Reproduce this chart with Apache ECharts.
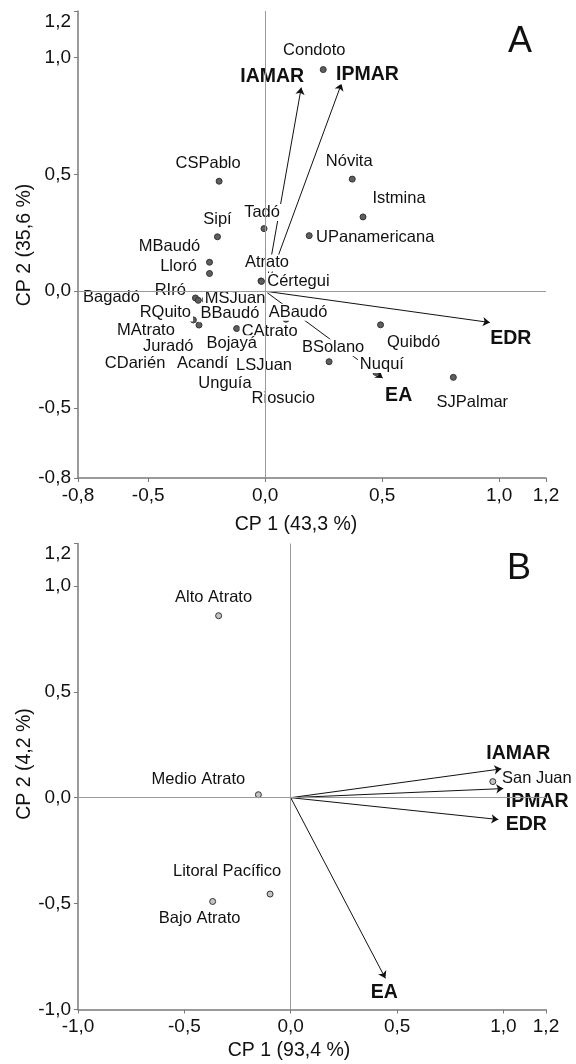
<!DOCTYPE html>
<html>
<head>
<meta charset="utf-8">
<script src="https://cdn.jsdelivr.net/npm/echarts@6/dist/echarts.min.js"></script>
<style>
html,body{margin:0;padding:0;background:#fff;}
#chart{width:576px;height:1064px;}
</style>
</head>
<body>
<div id="chart"></div>
<script>
// ---------- DATA ----------
// Panel A: municipalities (CP1, CP2 scores)
const municipiosA = ['Condoto','CSPablo','Nóvita','Istmina','Tadó','Sipí','UPanamericana','MBaudó','Lloró','Atrato','Cértegui','Bagadó','RIró','MSJuan','RQuito','MAtrato','BBaudó','CAtrato','Bojayá','ABaudó','BSolano','Quibdó','Nuquí','SJPalmar','Juradó','CDarién','Acandí','LSJuan','Unguía','Riosucio'];
const cp1A = [0.248,-0.197,0.372,0.418,-0.005,-0.204,0.188,-0.238,-0.238,-0.018,-0.016,-0.298,-0.286,-0.257,-0.307,-0.283,-0.172,-0.122,-0.143,0.089,0.273,0.493,0.473,0.804,-0.414,-0.556,-0.267,-0.005,-0.172,0.077];
const cp2A = [0.949,0.471,0.480,0.318,0.268,0.233,0.238,0.124,0.076,0.044,0.042,-0.029,-0.039,-0.037,-0.123,-0.145,-0.097,-0.160,-0.225,-0.120,-0.302,-0.144,-0.348,-0.369,-0.237,-0.308,-0.308,-0.319,-0.393,-0.460];
// Panel A: variable vectors
const variables = ['IAMAR','IPMAR','EDR','EA'];
const vecA_cp1 = [0.154,0.326,0.960,0.502];
const vecA_cp2 = [0.872,0.889,-0.134,-0.372];
// Panel B: subregions
const subregionesB = ['Alto Atrato','Medio Atrato','Litoral Pacífico','Bajo Atrato','San Juan'];
const cp1B = [-0.339,-0.152,-0.097,-0.367,0.950];
const cp2B = [0.859,0.014,-0.455,-0.490,0.076];
const vecB_cp1 = [0.990,0.999,0.976,0.445];
const vecB_cp2 = [0.136,0.043,-0.103,-0.853];
// Tick values
const ticksA_x = [-0.8,-0.5,0,0.5,1.0,1.2];
const ticksA_y = [-0.8,-0.5,0,0.5,1.0,1.2];
const ticksB_x = [-1.0,-0.5,0,0.5,1.0,1.2];
const ticksB_y = [-1.0,-0.5,0,0.5,1.0,1.2];
// Axis titles
const titleA_x = 'CP 1 (43,3 %)', titleA_y = 'CP 2 (35,6 %)';
const titleB_x = 'CP 1 (93,4 %)', titleB_y = 'CP 2 (4,2 %)';

// ---------- LAYOUT (label offsets in px, relative to point) ----------
const offA = {
  'Condoto':[-9,-19],'CSPablo':[-11,-18],'Nóvita':[-3,-18],'Istmina':[36,-18],'Tadó':[-2,-16],
  'Sipí':[0,-17],'UPanamericana':[66,2],'MBaudó':[-40,-16],'Lloró':[-31,-7],'Atrato':[6,-18],
  'Cértegui':[37,0],'Bagadó':[-84,-1],'RIró':[-28,-10],'MSJuan':[30,-1],'RQuito':[-28,-7],
  'MAtrato':[-53,5],'BBaudó':[5,0],'CAtrato':[33,3],'Bojayá':[0,0],'ABaudó':[12,-7],
  'BSolano':[4,-14],'Quibdó':[33,18],'Nuquí':[6,-8],'SJPalmar':[19,25],'Juradó':[0,0],
  'CDarién':[0,0],'Acandí':[0,0],'LSJuan':[0,0],'Unguía':[0,0],'Riosucio':[0,0]
};
const offVecA = {'IAMAR':[-29,-11],'IPMAR':[26,-9],'EDR':[21,16],'EA':[16,18]};
const offB = {'Alto Atrato':[-5,-18],'Medio Atrato':[-60,-15],'Litoral Pacífico':[-43,-23],'Bajo Atrato':[-13,17],'San Juan':[44,-3]};
const offVecB = {'IAMAR':[17,-15],'IPMAR':[34,13],'EDR':[28,5],'EA':[-1,14]};

const FONT = "'Liberation Sans', Arial, sans-serif";
const TXT = '#111111';
const AXC = '#7a7a7a';

function fmt(v){ return v.toFixed(1).replace('.', ','); }

function makeAxis(type, idx, min, max, ticks){
  const isY = type === 'y';
  return {
    type:'value', gridIndex: idx, min:min, max:max,
    splitLine:{show:false},
    axisLine:{show:true, onZero:false, lineStyle:{color:AXC, width:1.5}},
    axisTick:{show:true, customValues:ticks, length:4, lineStyle:{color:AXC, width:1}},
    axisLabel:{
      customValues:ticks, color:TXT, fontFamily:FONT, fontSize:19, margin: isY ? 7 : 8,
      formatter: function(v){
        const s = fmt(v);
        if (isY && Math.abs(v - max) < 1e-9) return '{top|' + s + '}';
        return s;
      },
      rich:{ top:{ padding:[21,0,0,0], fontFamily:FONT, fontSize:19, color:TXT } }
    }
  };
}

function ptsData(names, xs, ys){
  return names.map((n,i)=>({name:n, value:[xs[i], ys[i]]}));
}
function vecData(xs, ys){
  return xs.map((x,i)=>({coords:[[0,0],[x, ys[i]]]}));
}

function zeroSeries(gi){
  return {
    type:'line', xAxisIndex:gi, yAxisIndex:gi, data:[], z:1, silent:true,
    markLine:{
      silent:true, symbol:['none','none'], animation:false,
      label:{show:false},
      lineStyle:{color:'#9a9a9a', width:1, type:'solid'},
      emphasis:{disabled:true},
      data:[{xAxis:0},{yAxis:0}]
    }
  };
}
function arrowSeries(gi, xs, ys){
  return {
    type:'lines', coordinateSystem:'cartesian2d', xAxisIndex:gi, yAxisIndex:gi, z:2, silent:true,
    symbol:['none','arrow'], symbolSize:[0,7],
    lineStyle:{color:'#111', width:1, opacity:1},
    data: vecData(xs, ys)
  };
}
function pointSeries(gi, names, xs, ys, fill){
  return {
    type:'scatter', xAxisIndex:gi, yAxisIndex:gi, z:3, silent:true,
    symbol:'circle', symbolSize:6,
    itemStyle:{color:fill, borderColor:'#333', borderWidth:1, opacity:1},
    data: ptsData(names, xs, ys)
  };
}
function labelSeries(gi, names, xs, ys, offs, bold){
  return {
    type:'scatter', xAxisIndex:gi, yAxisIndex:gi, z:4, silent:true,
    symbolSize:1, itemStyle:{color:'rgba(0,0,0,0)', borderWidth:0},
    label:{
      show:true, position:'inside', formatter:'{b}', color:TXT, opacity:1,
      fontFamily:FONT, fontSize: bold ? 19.5 : 16.5, fontWeight: bold ? 'bold' : 'normal',
      backgroundColor:'#fff', padding:[0,2,0,2], textBorderWidth:0
    },
    labelLayout: function(p){
      const o = offs[names[p.dataIndex]] || [0,0];
      return {dx:o[0], dy:o[1], hideOverlap:false};
    },
    data: ptsData(names, xs, ys)
  };
}

const chart = echarts.init(document.getElementById('chart'), null, {renderer:'canvas'});
chart.setOption({
  backgroundColor:'#fff',
  animation:false,
  grid:[
    {left:78, top:11, width:468, height:467},
    {left:78, top:543.5, width:468, height:466}
  ],
  xAxis:[ makeAxis('x',0,-0.8,1.2,ticksA_x), makeAxis('x',1,-1.0,1.2,ticksB_x) ],
  yAxis:[ makeAxis('y',0,-0.8,1.2,ticksA_y), makeAxis('y',1,-1.0,1.2,ticksB_y) ],
  graphic:[
    {type:'text', style:{text:'A', fontFamily:FONT, fontSize:36, fill:'#111', x:520, y:42, align:'center', verticalAlign:'middle'}},
    {type:'text', style:{text:'B', fontFamily:FONT, fontSize:36, fill:'#111', x:519, y:569, align:'center', verticalAlign:'middle'}},
    {type:'text', style:{text:titleA_x, fontFamily:FONT, fontSize:19.5, fill:TXT, x:296, y:525, align:'center', verticalAlign:'middle'}},
    {type:'text', style:{text:titleB_x, fontFamily:FONT, fontSize:19.5, fill:TXT, x:289, y:1051, align:'center', verticalAlign:'middle'}},
    {type:'text', x:25, y:245, rotation:Math.PI/2, style:{text:titleA_y, fontFamily:FONT, fontSize:19.5, fill:TXT, x:0, y:0, align:'center', verticalAlign:'middle'}},
    {type:'text', x:25, y:764, rotation:Math.PI/2, style:{text:titleB_y, fontFamily:FONT, fontSize:19.5, fill:TXT, x:0, y:0, align:'center', verticalAlign:'middle'}}
  ],
  series:[
    zeroSeries(0),
    arrowSeries(0, vecA_cp1, vecA_cp2),
    pointSeries(0, municipiosA, cp1A, cp2A, '#5e5e5e'),
    labelSeries(0, municipiosA, cp1A, cp2A, offA, false),
    labelSeries(0, variables, vecA_cp1, vecA_cp2, offVecA, true),
    zeroSeries(1),
    arrowSeries(1, vecB_cp1, vecB_cp2),
    pointSeries(1, subregionesB, cp1B, cp2B, '#c4c4c4'),
    labelSeries(1, subregionesB, cp1B, cp2B, offB, false),
    labelSeries(1, variables, vecB_cp1, vecB_cp2, offVecB, true)
  ]
});
</script>
</body>
</html>
